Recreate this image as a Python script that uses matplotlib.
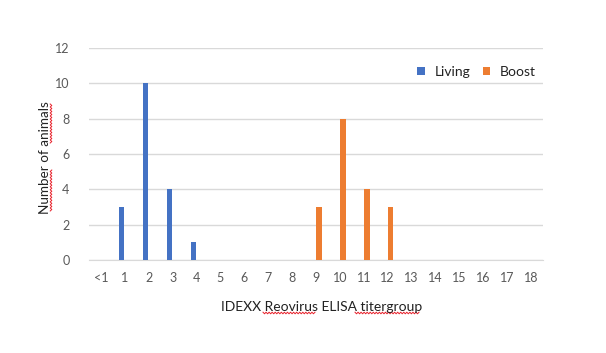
import numpy as np
import matplotlib.pyplot as plt
from matplotlib.lines import Line2D

categories = ["<1"] + [str(i) for i in range(1, 19)]
living = [0, 3, 10, 4, 1, 0, 0, 0, 0, 0, 0, 0, 0, 0, 0, 0, 0, 0, 0]
boost = [0, 0, 0, 0, 0, 0, 0, 0, 0, 3, 8, 4, 3, 0, 0, 0, 0, 0, 0]

BLUE = "#4472C4"
ORANGE = "#ED7D31"
GRAY = "#595959"

plt.rcParams["font.family"] = ["Lato", "DejaVu Sans"]

W, H = 606, 353
fig = plt.figure(figsize=(W / 100, H / 100), dpi=100)
ax = fig.add_axes([89 / W, 1 - 260 / H, (543 - 89) / W, (260 - 48) / H])

x = np.arange(len(categories))
bw = 0.22
ax.bar(x - 0.13, living, bw, color=BLUE, label="Living", zorder=3)
ax.bar(x + 0.13, boost, bw, color=ORANGE, label="Boost", zorder=3)

ax.set_xlim(-0.5, len(categories) - 0.5)
ax.set_ylim(0, 12)
ax.set_yticks(range(0, 13, 2))
ax.set_xticks(x)
ax.set_xticklabels(categories)
ax.tick_params(axis="both", length=0, labelsize=9, colors=GRAY, pad=9)
ax.tick_params(axis="y", pad=14)
ax.grid(axis="y", color="#D9D9D9", linewidth=1, zorder=0)
for s in ["top", "right", "left"]:
    ax.spines[s].set_visible(False)
ax.spines["bottom"].set_color("#D9D9D9")

fig.text(322 / W, 1 - 307 / H, "IDEXX Reovirus ELISA titergroup",
         ha="center", va="center", fontsize=10, color="#222222")
fig.text(45 / W, 1 - 158 / H, "Number of animals", rotation=90,
         ha="center", va="center", fontsize=9.7, color="#222222")

ax.legend(loc="upper right", bbox_to_anchor=(1.012, 0.975), ncol=2, frameon=False,
          fontsize=10, handlelength=0.55, handleheight=0.55, handletextpad=0.7,
          columnspacing=0.9, labelcolor="#222222")


def squiggle(x0, x1, y, vertical=False):
    n = int(abs(x1 - x0) / 1.5)
    t = np.linspace(x0, x1, n + 1)
    off = np.array([0.8 if i % 2 else -0.8 for i in range(n + 1)])
    if vertical:
        xs, ys = y + off, t
    else:
        xs, ys = t, y + off
    fig.add_artist(Line2D(xs / W, 1 - ys / H, transform=fig.transFigure,
                          color="#E8212B", linewidth=0.7))


squiggle(263, 315, 313)
squiggle(355, 419, 313)
squiggle(211, 170, 51, vertical=True)
squiggle(143, 104, 51, vertical=True)

fig.savefig("out.png", dpi=100, facecolor="white")
